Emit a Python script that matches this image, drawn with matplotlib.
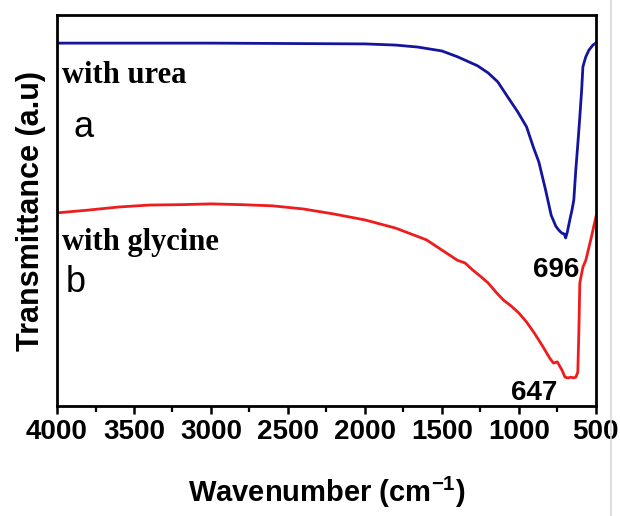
import matplotlib
matplotlib.use("Agg")
import matplotlib.pyplot as plt
from matplotlib.ticker import MultipleLocator
from matplotlib.lines import Line2D

# wavenumber (cm-1) and transmittance (a.u.)
urea_wn = [4000, 3500, 3000, 2500, 2000, 1800, 1658, 1500, 1398, 1268,
           1200, 1137, 1080, 1007, 950, 904, 870, 826, 790, 760,
           741, 720, 705, 696, 685, 669, 655, 643, 630, 615,
           604, 592, 584, 575, 565, 545, 519, 500]
urea_t = [92.8, 92.8, 92.8, 92.7, 92.6, 92.3, 91.8, 90.8, 89.3, 87.0,
          85.2, 82.9, 79.5, 75.2, 71.4, 66.0, 62.4, 55.2, 48.8, 46.0,
          45.0, 44.2, 44.0, 43.0, 44.5, 47.6, 50.1, 52.7, 60.4, 68.0,
          73.9, 80.8, 86.7, 88.0, 89.3, 91.0, 92.3, 92.8]

gly_wn = [4000, 3800, 3600, 3400, 3200, 3000, 2800, 2600, 2400, 2200,
          2000, 1800, 1700, 1600, 1500, 1450, 1400, 1350, 1300, 1250,
          1200, 1150, 1100, 1050, 1000, 950, 900, 850, 800, 775,
          750, 720, 700, 680, 660, 647, 630, 617, 610, 604,
          584, 565, 530, 500]
gly_t = [49.4, 50.1, 50.9, 51.4, 51.5, 51.7, 51.5, 51.2, 50.4, 49.1,
         47.6, 45.5, 44.0, 42.5, 39.9, 38.6, 37.3, 36.6, 34.8, 33.2,
         31.5, 29.2, 27.1, 25.6, 23.8, 21.5, 18.7, 15.6, 12.3, 11.0,
         11.3, 9.2, 7.4, 7.2, 7.4, 7.2, 7.4, 8.7, 19.4, 31.5,
         35.5, 37.3, 43.0, 48.3]

xticks = [4000, 3500, 3000, 2500, 2000, 1500, 1000, 500]

sans = "Liberation Sans"
serif = "Liberation Serif"
plt.rcParams["mathtext.fontset"] = "custom"
plt.rcParams["mathtext.rm"] = "Liberation Sans:bold"
plt.rcParams["mathtext.bf"] = "Liberation Sans:bold"

fig = plt.figure(figsize=(6.2, 5.16), dpi=100)
ax = fig.add_axes([0.092, 0.213, 0.869, 0.758])

ax.plot(urea_wn, urea_t, color="#14149c", lw=2.0)
ax.plot(gly_wn, gly_t, color="#ee1c1c", lw=2.0)

ax.set_xlim(4000, 500)
ax.set_ylim(0, 100)
ax.set_xticks(xticks)
ax.xaxis.set_minor_locator(MultipleLocator(250))
ax.set_yticks([])
for s in ax.spines.values():
    s.set_linewidth(2.0)
ax.tick_params(axis="x", which="major", direction="out", length=6, width=1.8,
               pad=3, labelsize=20)
ax.tick_params(axis="x", which="minor", direction="out", length=4, width=1.6)
for lbl in ax.get_xticklabels():
    lbl.set_fontfamily(sans)
    lbl.set_fontweight("bold")

ax.set_xlabel("Wavenumber (cm$^{\\mathbf{-1}}$)", fontsize=21, fontweight="bold",
              family=sans, labelpad=22)
ax.set_ylabel("Transmittance (a.u)", fontsize=22, fontweight="bold",
              family=sans, labelpad=8)

# annotations
ax.text(3967, 82.6, "with urea", family=serif, fontweight="bold", fontsize=22,
        va="baseline", ha="left")
ax.text(3896, 68.8, "a", family=sans, fontsize=26, va="baseline", ha="left")
ax.text(3967, 39.9, "with glycine", family=serif, fontweight="bold", fontsize=22,
        va="baseline", ha="left")
ax.text(3941, 29.2, "b", family=sans, fontsize=26, va="baseline", ha="left")
ax.text(760, 33.0, "696", family=sans, fontweight="bold", fontsize=20,
        va="baseline", ha="center")
ax.text(903, 1.5, "647", family=sans, fontweight="bold", fontsize=20,
        va="baseline", ha="center")

# faint border on the right edge of the original image
fig.add_artist(Line2D([0.985, 0.985], [0, 1], color="#d8d8d8", lw=1.2))

fig.savefig("out.png", dpi=100)
